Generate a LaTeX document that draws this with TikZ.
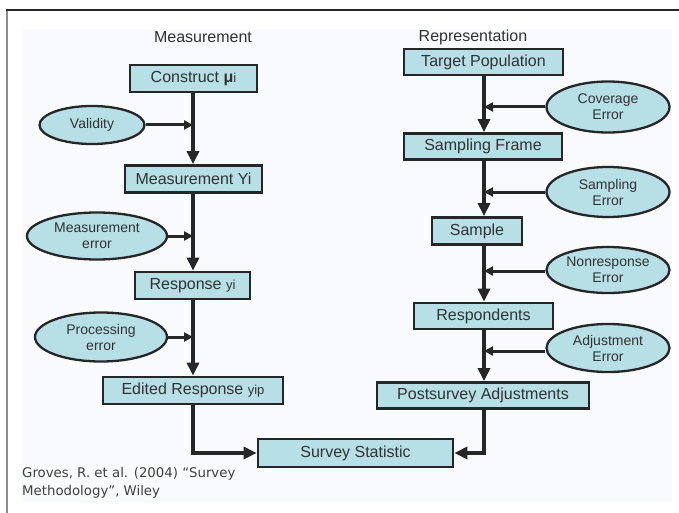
\documentclass[tikz,border=0pt]{standalone}
\usepackage{fontspec}
\setmainfont{Liberation Sans}
\newfontfamily\citefont{DejaVu Sans}
\usetikzlibrary{arrows.meta,shapes.geometric}
\definecolor{boxfill}{RGB}{182,223,230}
\definecolor{txt}{RGB}{50,50,50}
\definecolor{bgin}{RGB}{249,250,253}
\tikzset{
  box/.style={draw=black!85, line width=2.8pt, fill=boxfill, inner sep=0pt, text=txt, font=\fontsize{16}{18}\selectfont},
  oval/.style={ellipse, draw=black!85, line width=2.3pt, fill=boxfill, inner sep=0pt, text=txt, align=center, font=\fontsize{14}{16}\selectfont},
  flow/.style={line width=3.3pt, black!85, -{Triangle[length=13pt,width=12pt]}},
  side/.style={line width=3pt, black!85, -{Triangle[length=9pt,width=9pt]}},
  plain/.style={line width=3.3pt, black!85},
  ttl/.style={text=txt, font=\fontsize{16}{18}\selectfont},
}
\newcommand{\sm}[1]{{\fontsize{13}{14}\selectfont #1}}
\begin{document}
\begin{tikzpicture}[x=1pt,y=-1pt]
\useasboundingbox (0,0) rectangle (679,513);
\fill[white] (0,0) rectangle (679,513);
\fill[bgin] (22,29) rectangle (672,502);
\draw[line width=2pt, black!45] (7,10) -- (7,513);
\draw[line width=2pt, black!85] (6,10) -- (679,10);

% titles
\node[ttl] (tm) at (203,37) {Measurement};
\node[ttl] (tr) at (473,37) {Representation};

% left column boxes
\node[box, minimum width=127pt, minimum height=27pt] (c) at (193.5,78.5) {Construct \textbf{μ}\sm{i}};
\node[box, minimum width=137pt, minimum height=27pt] (my) at (193.5,179) {Measurement Yi};
\node[box, minimum width=115pt, minimum height=27pt] (ry) at (192.5,285.5) {Response \sm{yi}};
\node[box, minimum width=180pt, minimum height=27pt] (ey) at (193,390.5) {Edited Response \sm{yip}};
\node[box, minimum width=195pt, minimum height=28pt] (ss) at (355.5,453) {Survey Statistic};

% left ellipses
\node[oval, minimum width=105pt, minimum height=38pt] (val) at (92,125) {Validity};
\node[oval, minimum width=140pt, minimum height=47pt] (me) at (97,236) {Measurement\\error};
\node[oval, minimum width=132pt, minimum height=49pt] (pe) at (101,337) {Processing\\error};

% right column boxes
\node[box, minimum width=159pt, minimum height=26pt] (tp) at (483.5,62) {Target Population};
\node[box, minimum width=158pt, minimum height=26pt] (sf) at (483,146.5) {Sampling Frame};
\node[box, minimum width=90pt, minimum height=27pt] (sa) at (477,231) {Sample};
\node[box, minimum width=139pt, minimum height=26pt] (re) at (483.5,316) {Respondents};
\node[box, minimum width=212pt, minimum height=26pt] (pa) at (483,395.5) {Postsurvey Adjustments};

% right ellipses
\node[oval, minimum width=123pt, minimum height=51pt] (ce) at (608,107) {Coverage\\Error};
\node[oval, minimum width=123pt, minimum height=50pt] (se) at (608,192) {Sampling\\Error};
\node[oval, minimum width=123pt, minimum height=46pt] (ne) at (608,270) {Nonresponse\\Error};
\node[oval, minimum width=123pt, minimum height=48pt] (ae) at (608,348) {Adjustment\\Error};

% junction coordinates
\coordinate (j1) at (193,125);
\coordinate (j2) at (193,236);
\coordinate (j3) at (193,337);
\coordinate (k1) at (484,107);
\coordinate (k2) at (484,192);
\coordinate (k3) at (484,271);
\coordinate (k4) at (484,351);
\coordinate (bl) at (193,453);
\coordinate (br) at (484,453);

% left flow
\draw[flow] (c.south -| j1) -- (my.north -| j1);
\draw[flow] (my.south -| j2) -- (ry.north -| j2);
\draw[flow] (ry.south -| j3) -- (ey.north -| j3);
\draw[side] (val.east) -- (j1);
\draw[side] (me.east |- j2) -- (j2);
\draw[side] (pe.east |- j3) -- (j3);
\draw[plain, -{Triangle[length=13pt,width=12pt]}] (ey.south -| bl) -- (bl) -- (ss.west);

% right flow
\draw[flow] (tp.south -| k1) -- (sf.north -| k1);
\draw[flow] (sf.south -| k2) -- (sa.north -| k2);
\draw[flow] (sa.south -| k3) -- (re.north -| k3);
\draw[flow] (re.south -| k4) -- (pa.north -| k4);
\draw[side] (ce.west) -- (k1);
\draw[side] (se.west) -- (k2);
\draw[side] (ne.west |- k3) -- (k3);
\draw[side] (ae.west |- k4) -- (k4);
\draw[plain, -{Triangle[length=13pt,width=12pt]}] (pa.south -| br) -- (br) -- (ss.east);

% citation
\node[anchor=north west, align=left, text=black!75, font=\citefont\fontsize{13.3}{18}\selectfont, inner sep=0pt] (cit) at (22,467) {Groves, R. et al. (2004) “Survey\\Methodology”, Wiley};
\end{tikzpicture}
\end{document}
